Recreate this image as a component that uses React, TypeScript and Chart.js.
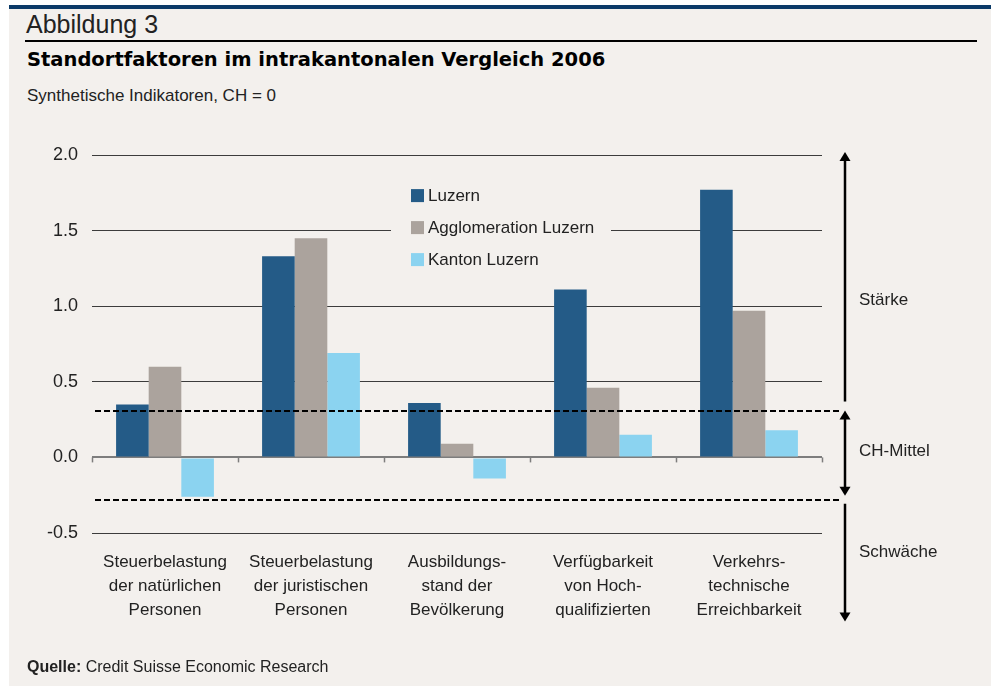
import React, { useEffect, useRef } from "react";
import { Chart, registerables } from "chart.js";

Chart.register(...registerables);

const categories: string[][] = [
  ["Steuerbelastung", "der natürlichen", "Personen"],
  ["Steuerbelastung", "der juristischen", "Personen"],
  ["Ausbildungs-", "stand der", "Bevölkerung"],
  ["Verfügbarkeit", "von Hoch-", "qualifizierten"],
  ["Verkehrs-", "technische", "Erreichbarkeit"],
];
const seriesNames = ["Luzern", "Agglomeration Luzern", "Kanton Luzern"];
const luzern = [0.35, 1.33, 0.36, 1.11, 1.77];
const agglomeration = [0.6, 1.45, 0.09, 0.46, 0.97];
const kanton = [-0.26, 0.69, -0.14, 0.15, 0.18];
const yMin = -0.5;
const yMax = 2.0;
const yStep = 0.5;
const bandUpper = 0.31;
const bandLower = -0.28;
const zoneLabels = [
  { text: "Stärke", value: 1.04 },
  { text: "CH-Mittel", value: 0.04 },
  { text: "Schwäche", value: -0.63 },
];
const arrowTop = 2.02;
const arrowBottom = -1.085;

const COLORS = ["#245b87", "#aba39d", "#8bd3f0"];
const BG = "#f3f0ed";
const FONT = "'Liberation Sans', Arial, sans-serif";
const TEXT = "#222222";

function drawArrow(ctx: CanvasRenderingContext2D, x: number, y1: number, y2: number, headTop: boolean, headBottom: boolean) {
  const hh = 9;
  const hw = 5.5;
  ctx.save();
  ctx.strokeStyle = "#000";
  ctx.fillStyle = "#000";
  ctx.lineWidth = 2.5;
  ctx.beginPath();
  ctx.moveTo(x, y1 + (headTop ? hh - 1 : 0));
  ctx.lineTo(x, y2 - (headBottom ? hh - 1 : 0));
  ctx.stroke();
  if (headTop) {
    ctx.beginPath();
    ctx.moveTo(x, y1);
    ctx.lineTo(x - hw, y1 + hh);
    ctx.lineTo(x + hw, y1 + hh);
    ctx.closePath();
    ctx.fill();
  }
  if (headBottom) {
    ctx.beginPath();
    ctx.moveTo(x, y2);
    ctx.lineTo(x - hw, y2 - hh);
    ctx.lineTo(x + hw, y2 - hh);
    ctx.closePath();
    ctx.fill();
  }
  ctx.restore();
}

const annotations = {
  id: "annotations",
  beforeDatasetsDraw(chart: any) {
    const { ctx, scales } = chart;
    const xs = scales.x;
    const ys = scales.y;
    const zero = ys.getPixelForValue(0);
    // tick marks on the zero line
    ctx.save();
    ctx.strokeStyle = "#7d7d7d";
    ctx.lineWidth = 1.5;
    for (let i = 0; i <= categories.length; i++) {
      const px = Math.round(xs.getPixelForValue(i - 0.5)) + 0.5;
      ctx.beginPath();
      ctx.moveTo(px, zero);
      ctx.lineTo(px, zero + 5);
      ctx.stroke();
    }
    ctx.restore();

    // legend
    const lx = 391;
    const ly = ys.getPixelForValue(1.5);
    ctx.save();
    ctx.fillStyle = BG;
    ctx.fillRect(lx, ly - 52, 220, 97);
    ctx.font = `17px ${FONT}`;
    ctx.textBaseline = "middle";
    chart.data.datasets.forEach((ds: any, i: number) => {
      const cy = ly - 35 + i * 32;
      ctx.fillStyle = ds.backgroundColor;
      ctx.fillRect(lx + 20, cy - 6.5, 13, 13);
      ctx.fillStyle = TEXT;
      ctx.fillText(ds.label, lx + 37, cy + 1);
    });
    ctx.restore();
  },
  afterDatasetsDraw(chart: any) {
    const { ctx, chartArea, scales } = chart;
    const ys = scales.y;
    const ax = chartArea.right + 23;
    const up = ys.getPixelForValue(bandUpper);
    const lo = ys.getPixelForValue(bandLower);
    ctx.save();
    ctx.strokeStyle = "#000";
    ctx.lineWidth = 2;
    ctx.setLineDash([6, 3]);
    [up, lo].forEach((y: number) => {
      ctx.beginPath();
      ctx.moveTo(chartArea.left + 3, Math.round(y));
      ctx.lineTo(ax - 3, Math.round(y));
      ctx.stroke();
    });
    ctx.restore();

    drawArrow(ctx, ax, ys.getPixelForValue(arrowTop), up - 9, true, false);
    drawArrow(ctx, ax, up, lo - 4, true, true);
    drawArrow(ctx, ax, lo + 4, ys.getPixelForValue(arrowBottom), false, true);

    ctx.save();
    ctx.font = `17px ${FONT}`;
    ctx.fillStyle = TEXT;
    ctx.textBaseline = "middle";
    zoneLabels.forEach((z) => {
      ctx.fillText(z.text, ax + 14, ys.getPixelForValue(z.value));
    });
    ctx.restore();
  },
};

export default function App() {
  const ref = useRef<HTMLCanvasElement>(null);
  useEffect(() => {
    const chart = new Chart(ref.current as HTMLCanvasElement, {
      type: "bar",
      data: {
        labels: categories as any,
        datasets: [
          { label: seriesNames[0], data: luzern, backgroundColor: COLORS[0] },
          { label: seriesNames[1], data: agglomeration, backgroundColor: COLORS[1] },
          { label: seriesNames[2], data: kanton, backgroundColor: COLORS[2] },
        ],
      },
      options: {
        responsive: false,
        animation: false,
        devicePixelRatio: 1,
        layout: { padding: { left: 0, right: 169, top: 155, bottom: 0 } },
        plugins: { legend: { display: false }, tooltip: { enabled: false } },
        datasets: { bar: { categoryPercentage: 0.67, barPercentage: 1, borderWidth: 0 } },
        scales: {
          x: {
            grid: { display: false, drawTicks: false },
            border: { display: false },
            ticks: {
              color: TEXT,
              font: { family: FONT, size: 17, lineHeight: 24 / 17 },
              padding: 17,
              maxRotation: 0,
              autoSkip: false,
            },
            afterFit(s: any) {
              s.height = 153;
            },
          },
          y: {
            min: yMin,
            max: yMax,
            ticks: {
              stepSize: yStep,
              callback: (v: any) => Number(v).toFixed(1),
              color: TEXT,
              font: { family: FONT, size: 18 },
              padding: 14,
            },
            grid: {
              drawTicks: false,
              color: (c: any) => (c.tick && c.tick.value === 0 ? "#7d7d7d" : "#3c3c3c"),
              lineWidth: (c: any) => (c.tick && c.tick.value === 0 ? 2 : 1),
            },
            border: { display: false },
            afterFit(s: any) {
              s.width = 92;
            },
          },
        },
      } as any,
      plugins: [annotations],
    });
    return () => chart.destroy();
  }, []);

  const abs = (o: React.CSSProperties): React.CSSProperties => ({ position: "absolute", margin: 0, whiteSpace: "nowrap", ...o });

  return (
    <div style={{ position: "fixed", left: 0, top: 0, width: 991, height: 686, background: "#fff", overflow: "hidden" }}>
      <div style={abs({ left: 9, top: 9, width: 982, height: 677, background: BG })} />
      <div style={abs({ left: 9, top: 5, width: 982, height: 4, background: "#0b3a68" })} />
      <div style={abs({ left: 26, top: 12, fontFamily: FONT, fontSize: 25, lineHeight: "25px", color: TEXT })}>Abbildung 3</div>
      <div style={abs({ left: 25, top: 40, width: 952, height: 1.5, background: "#000" })} />
      <div style={abs({ left: 27, top: 49.5, fontFamily: "'DejaVu Sans', sans-serif", fontWeight: "bold", fontSize: 19.5, lineHeight: "19.5px", color: "#000" })}>
        Standortfaktoren im intrakantonalen Vergleich 2006
      </div>
      <div style={abs({ left: 27, top: 86.6, fontFamily: FONT, fontSize: 17, lineHeight: "17px", color: TEXT })}>
        Synthetische Indikatoren, CH = 0
      </div>
      <canvas ref={ref} width={991} height={686} style={abs({ left: 0, top: 0, width: 991, height: 686 })} />
      <div style={abs({ left: 27, top: 658.8, fontFamily: FONT, fontSize: 16, lineHeight: "16px", color: TEXT })}>
        <b>Quelle:</b> Credit Suisse Economic Research
      </div>
    </div>
  );
}
